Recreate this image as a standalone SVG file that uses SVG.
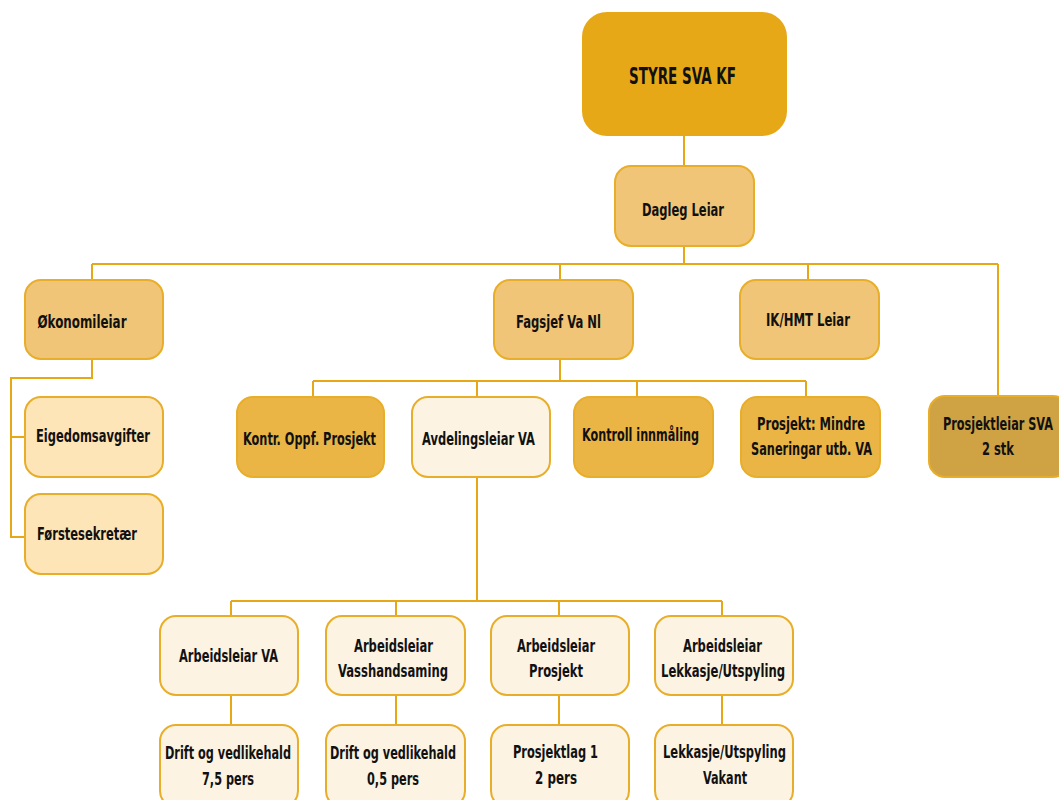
<svg xmlns="http://www.w3.org/2000/svg" width="1059" height="800" viewBox="0 0 1059 800">
<style>
text{font-family:"DejaVu Sans Condensed","DejaVu Sans","Liberation Sans Narrow",sans-serif;font-stretch:condensed;font-weight:bold;font-size:17px;fill:#111;text-anchor:middle}
.l{text-anchor:start}
.big{font-size:23px}
.n{stroke:#E8AE2A;stroke-width:2}
.c1{fill:#E6A817;stroke:#E6A817}
.c2{fill:#F0C577}
.c3{fill:#FDE5B8}
.c4{fill:#EBB546}
.c5{fill:#FCF3E3}
.c6{fill:#CFA244}
#connectors path{fill:none;stroke:#E6A817;stroke-width:2}
</style>
<rect width="1059" height="800" fill="#fff"/>
<g id="connectors">
<path d="M684 135V166M684 246V264M92 264H998M92 264V280M560 264V280M808 264V280M998 264V396"/>
<path d="M92 359V378H11V537H25M11 437H25"/>
<path d="M560 359V381M313 381H806M313 381V397M477 381V397M637 381V397M806 381V397"/>
<path d="M477 477V601M231 601H722M231 601V616M396 601V616M559 601V616M722 601V616"/>
<path d="M231 695V725M396 695V725M559 695V725M722 695V725"/>
</g>
<g id="styre"><rect class="n c1" x="583" y="13" width="203" height="122" rx="24"/><text class="big" x="682.5" y="84" textLength="107" lengthAdjust="spacingAndGlyphs">STYRE SVA KF</text></g>
<g id="dagleg"><rect class="n c2" x="615" y="166" width="139" height="80" rx="16"/><text x="683" y="216" textLength="82" lengthAdjust="spacingAndGlyphs">Dagleg Leiar</text></g>
<g id="okonomi"><rect class="n c2" x="25" y="280" width="138" height="79" rx="16"/><text class="l" x="37.5" y="328" textLength="89" lengthAdjust="spacingAndGlyphs">Økonomileiar</text></g>
<g id="fagsjef"><rect class="n c2" x="494" y="280" width="139" height="79" rx="16"/><text x="558.5" y="328" textLength="85" lengthAdjust="spacingAndGlyphs">Fagsjef Va Nl</text></g>
<g id="ikhmt"><rect class="n c2" x="740" y="280" width="139" height="79" rx="16"/><text x="808" y="326" textLength="84" lengthAdjust="spacingAndGlyphs">IK/HMT Leiar</text></g>
<g id="eigedom"><rect class="n c3" x="25" y="397" width="138" height="80" rx="16"/><text class="l" x="36" y="442" textLength="114" lengthAdjust="spacingAndGlyphs">Eigedomsavgifter</text></g>
<g id="forste"><rect class="n c3" x="25" y="494" width="138" height="80" rx="16"/><text class="l" x="37" y="540" textLength="100" lengthAdjust="spacingAndGlyphs">Førstesekretær</text></g>
<g id="kontr"><rect class="n c4" x="237" y="397" width="147" height="80" rx="16"/><text x="309.5" y="445" textLength="133" lengthAdjust="spacingAndGlyphs">Kontr. Oppf. Prosjekt</text></g>
<g id="avdeling"><rect class="n c5" x="412" y="397" width="138" height="80" rx="16"/><text x="478.5" y="445" textLength="113" lengthAdjust="spacingAndGlyphs">Avdelingsleiar VA</text></g>
<g id="kontroll"><rect class="n c4" x="574" y="397" width="139" height="80" rx="16"/><text x="640.5" y="441" textLength="117" lengthAdjust="spacingAndGlyphs">Kontroll innmåling</text></g>
<g id="mindre"><rect class="n c4" x="741" y="397" width="139" height="80" rx="16"/><text x="811" y="430" textLength="108" lengthAdjust="spacingAndGlyphs">Prosjekt: Mindre</text><text x="811.5" y="455" textLength="121" lengthAdjust="spacingAndGlyphs">Saneringar utb. VA</text></g>
<g id="prosjektleiar"><rect class="n c6" x="929" y="396" width="140" height="81" rx="16"/><text x="998" y="430" textLength="110" lengthAdjust="spacingAndGlyphs">Prosjektleiar SVA</text><text x="998" y="455" textLength="32" lengthAdjust="spacingAndGlyphs">2 stk</text></g>
<g id="arbva"><rect class="n c5" x="160" y="616" width="138" height="79" rx="16"/><text x="228.5" y="662" textLength="99" lengthAdjust="spacingAndGlyphs">Arbeidsleiar VA</text></g>
<g id="arbvass"><rect class="n c5" x="326" y="616" width="139" height="79" rx="16"/><text x="393.5" y="652" textLength="79" lengthAdjust="spacingAndGlyphs">Arbeidsleiar</text><text x="393" y="677" textLength="110" lengthAdjust="spacingAndGlyphs">Vasshandsaming</text></g>
<g id="arbpros"><rect class="n c5" x="491" y="616" width="138" height="79" rx="16"/><text x="556" y="652" textLength="78" lengthAdjust="spacingAndGlyphs">Arbeidsleiar</text><text x="556" y="677" textLength="54" lengthAdjust="spacingAndGlyphs">Prosjekt</text></g>
<g id="arblekk"><rect class="n c5" x="655" y="616" width="138" height="79" rx="16"/><text x="722.5" y="652" textLength="79" lengthAdjust="spacingAndGlyphs">Arbeidsleiar</text><text x="723" y="677" textLength="124" lengthAdjust="spacingAndGlyphs">Lekkasje/Utspyling</text></g>
<g id="drift1"><rect class="n c5" x="160" y="725" width="138" height="82" rx="16"/><text x="228" y="759" textLength="126" lengthAdjust="spacingAndGlyphs">Drift og vedlikehald</text><text x="228" y="785" textLength="52" lengthAdjust="spacingAndGlyphs">7,5 pers</text></g>
<g id="drift2"><rect class="n c5" x="326" y="725" width="139" height="82" rx="16"/><text x="393" y="759" textLength="126" lengthAdjust="spacingAndGlyphs">Drift og vedlikehald</text><text x="393" y="785" textLength="52" lengthAdjust="spacingAndGlyphs">0,5 pers</text></g>
<g id="lag1"><rect class="n c5" x="491" y="725" width="138" height="82" rx="16"/><text x="555.5" y="758" textLength="85" lengthAdjust="spacingAndGlyphs">Prosjektlag 1</text><text x="556" y="784" textLength="42" lengthAdjust="spacingAndGlyphs">2 pers</text></g>
<g id="lekk"><rect class="n c5" x="655" y="725" width="138" height="82" rx="16"/><text x="724.5" y="758" textLength="123" lengthAdjust="spacingAndGlyphs">Lekkasje/Utspyling</text><text x="725" y="784" textLength="44" lengthAdjust="spacingAndGlyphs">Vakant</text></g>
</svg>
